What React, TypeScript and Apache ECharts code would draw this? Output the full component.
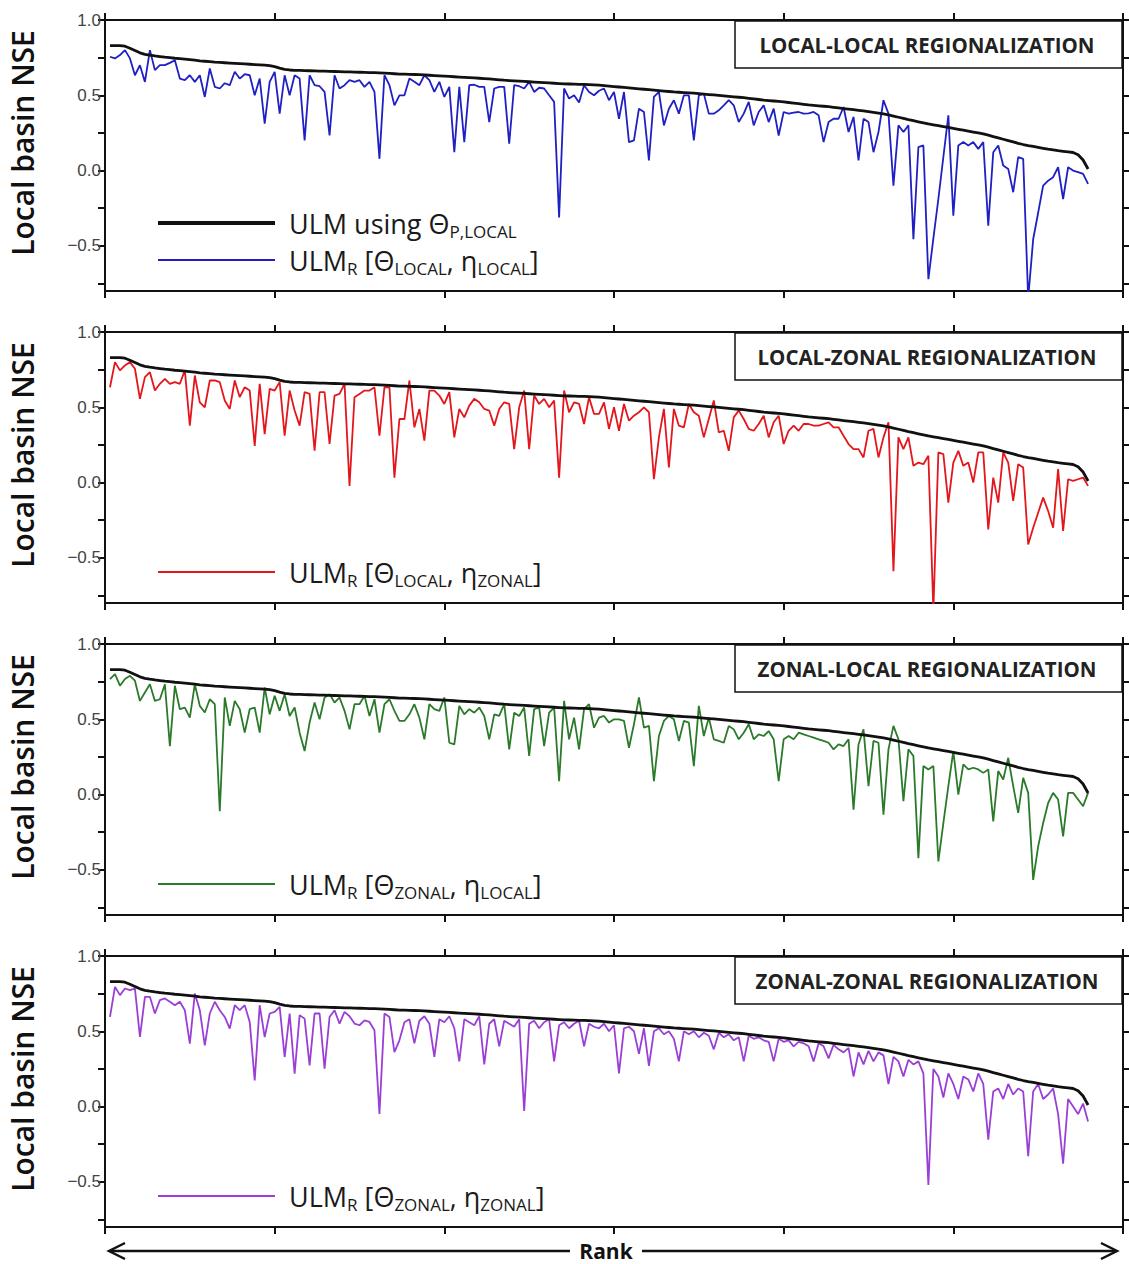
import React, { useEffect, useRef } from "react";
import * as echarts from "echarts";

// ---------- DATA ----------
const N = 197;
const ranks: number[] = Array.from({ length: N }, (_, i) => i + 1);

// ULM using Theta_P,LOCAL (ranked, same in every panel)
const ulmLocal: number[] = [
  0.83, 0.83, 0.83, 0.826, 0.812, 0.797, 0.782, 0.772, 0.766, 0.761,
  0.757, 0.753, 0.75, 0.746, 0.743, 0.74, 0.737, 0.733, 0.729, 0.726,
  0.723, 0.72, 0.718, 0.716, 0.714, 0.712, 0.71, 0.708, 0.706, 0.704,
  0.702, 0.70, 0.697, 0.69, 0.68, 0.672, 0.668, 0.666, 0.665, 0.664,
  0.663, 0.662, 0.661, 0.66, 0.659, 0.658, 0.657, 0.656, 0.655, 0.654,
  0.653, 0.652, 0.651, 0.65, 0.649, 0.647, 0.645, 0.643, 0.641, 0.64,
  0.639, 0.638, 0.637, 0.635, 0.633, 0.631, 0.629, 0.627, 0.625, 0.623,
  0.621, 0.619, 0.617, 0.615, 0.613, 0.611, 0.609, 0.606, 0.603, 0.60,
  0.598, 0.596, 0.594, 0.592, 0.59, 0.588, 0.586, 0.584, 0.582, 0.58,
  0.578, 0.576, 0.575, 0.574, 0.573, 0.572, 0.571, 0.569, 0.567, 0.564,
  0.561, 0.558, 0.555, 0.552, 0.549, 0.546, 0.543, 0.54, 0.537, 0.534,
  0.531, 0.528, 0.525, 0.522, 0.52, 0.518, 0.516, 0.514, 0.511, 0.508,
  0.505, 0.502, 0.499, 0.496, 0.493, 0.49, 0.487, 0.484, 0.48, 0.476,
  0.472, 0.468, 0.465, 0.462, 0.459, 0.456, 0.452, 0.448, 0.444, 0.44,
  0.436, 0.433, 0.43, 0.427, 0.424, 0.42, 0.416, 0.412, 0.408, 0.404,
  0.40, 0.396, 0.391, 0.386, 0.381, 0.376, 0.37, 0.362, 0.354, 0.346,
  0.338, 0.331, 0.324, 0.317, 0.31, 0.304, 0.298, 0.292, 0.286, 0.28,
  0.274, 0.268, 0.262, 0.256, 0.25, 0.243, 0.235, 0.226, 0.217, 0.208,
  0.199, 0.19, 0.181, 0.173, 0.166, 0.16, 0.154, 0.148, 0.142, 0.137,
  0.132, 0.128, 0.124, 0.12, 0.105, 0.07, 0.01,
];

// ULM_R [Theta_LOCAL, eta_LOCAL]
const localLocal: number[] = [
  0.756, 0.745, 0.767, 0.80, 0.745, 0.633, 0.70, 0.589, 0.80, 0.667,
  0.70, 0.70, 0.715, 0.733, 0.611, 0.60, 0.633, 0.589, 0.633, 0.489,
  0.678, 0.556, 0.545, 0.58, 0.567, 0.656, 0.611, 0.64, 0.633, 0.50,
  0.611, 0.311, 0.589, 0.656, 0.378, 0.633, 0.50, 0.633, 0.611, 0.20,
  0.633, 0.567, 0.56, 0.522, 0.233, 0.633, 0.545, 0.567, 0.60, 0.589,
  0.60, 0.556, 0.589, 0.522, 0.078, 0.633, 0.567, 0.433, 0.50, 0.50,
  0.611, 0.59, 0.567, 0.633, 0.60, 0.522, 0.589, 0.489, 0.556, 0.122,
  0.556, 0.189, 0.567, 0.57, 0.556, 0.556, 0.322, 0.545, 0.556, 0.556,
  0.178, 0.567, 0.56, 0.545, 0.589, 0.522, 0.55, 0.545, 0.50, 0.456,
  -0.311, 0.545, 0.478, 0.50, 0.452, 0.567, 0.522, 0.50, 0.53, 0.545,
  0.467, 0.522, 0.344, 0.522, 0.189, 0.20, 0.411, 0.389, 0.067, 0.489,
  0.522, 0.30, 0.411, 0.467, 0.378, 0.50, 0.50, 0.20, 0.50, 0.511,
  0.378, 0.378, 0.40, 0.433, 0.467, 0.433, 0.322, 0.378, 0.456, 0.30,
  0.389, 0.433, 0.322, 0.411, 0.233, 0.389, 0.378, 0.385, 0.389, 0.378,
  0.38, 0.389, 0.367, 0.189, 0.322, 0.344, 0.344, 0.422, 0.256, 0.356,
  0.067, 0.344, 0.322, 0.122, 0.256, 0.467, 0.378, -0.10, 0.30, 0.256,
  0.30, -0.456, 0.156, 0.167, -0.722, -0.45, -0.189, 0.09, 0.367, -0.30,
  0.167, 0.189, 0.167, 0.189, 0.144, 0.189, -0.367, 0.122, 0.167, 0.033,
  0.011, -0.144, 0.089, 0.078, -0.85, -0.456, -0.28, -0.10, -0.067, -0.044,
  0.022, -0.189, 0.022, 0.0, -0.01, -0.022, -0.089,
];

// ULM_R [Theta_LOCAL, eta_ZONAL]
const localZonal: number[] = [
  0.633, 0.80, 0.745, 0.778, 0.80, 0.756, 0.556, 0.70, 0.733, 0.611,
  0.656, 0.689, 0.656, 0.667, 0.656, 0.745, 0.378, 0.711, 0.533, 0.50,
  0.678, 0.678, 0.667, 0.545, 0.489, 0.678, 0.567, 0.633, 0.611, 0.244,
  0.656, 0.322, 0.622, 0.611, 0.667, 0.311, 0.611, 0.478, 0.378, 0.60,
  0.589, 0.211, 0.60, 0.60, 0.256, 0.578, 0.589, 0.656, -0.022, 0.567,
  0.589, 0.611, 0.611, 0.633, 0.311, 0.633, 0.633, 0.033, 0.422, 0.422,
  0.678, 0.367, 0.489, 0.278, 0.611, 0.611, 0.578, 0.522, 0.60, 0.30,
  0.489, 0.433, 0.511, 0.556, 0.533, 0.489, 0.478, 0.378, 0.489, 0.533,
  0.522, 0.222, 0.50, 0.611, 0.222, 0.578, 0.522, 0.556, 0.50, 0.544,
  0.033, 0.611, 0.467, 0.533, 0.522, 0.389, 0.567, 0.456, 0.456, 0.533,
  0.356, 0.50, 0.344, 0.522, 0.411, 0.444, 0.467, 0.50, 0.467, 0.022,
  0.30, 0.489, 0.10, 0.489, 0.378, 0.367, 0.522, 0.467, 0.444, 0.30,
  0.422, 0.545, 0.333, 0.344, 0.211, 0.433, 0.478, 0.422, 0.356, 0.344,
  0.389, 0.444, 0.30, 0.40, 0.444, 0.256, 0.344, 0.378, 0.344, 0.389,
  0.389, 0.378, 0.378, 0.389, 0.40, 0.367, 0.367, 0.311, 0.256, 0.222,
  0.222, 0.167, 0.344, 0.356, 0.167, 0.30, 0.40, -0.589, 0.30, 0.222,
  0.30, 0.111, 0.133, 0.122, 0.178, -0.85, 0.20, 0.189, -0.133, 0.133,
  0.211, 0.111, 0.133, 0.0, 0.20, 0.20, -0.311, 0.033, -0.133, 0.20,
  0.133, -0.122, 0.122, 0.10, -0.411, -0.30, -0.20, -0.10, -0.189, -0.30,
  0.089, -0.322, 0.022, 0.011, 0.022, 0.033, -0.022,
];

// ULM_R [Theta_ZONAL, eta_LOCAL]
const zonalLocal: number[] = [
  0.767, 0.80, 0.723, 0.767, 0.789, 0.756, 0.622, 0.678, 0.733, 0.622,
  0.633, 0.733, 0.322, 0.723, 0.567, 0.578, 0.511, 0.733, 0.589, 0.545,
  0.633, 0.60, -0.111, 0.645, 0.456, 0.622, 0.567, 0.411, 0.567, 0.578,
  0.411, 0.711, 0.533, 0.656, 0.556, 0.667, 0.522, 0.578, 0.411, 0.289,
  0.478, 0.611, 0.50, 0.645, 0.667, 0.611, 0.645, 0.556, 0.433, 0.60,
  0.60, 0.656, 0.522, 0.633, 0.411, 0.60, 0.633, 0.556, 0.489, 0.489,
  0.533, 0.60, 0.511, 0.367, 0.60, 0.567, 0.556, 0.645, 0.344, 0.333,
  0.589, 0.533, 0.567, 0.544, 0.578, 0.522, 0.367, 0.533, 0.522, 0.60,
  0.30, 0.544, 0.522, 0.578, 0.256, 0.567, 0.578, 0.322, 0.544, 0.578,
  0.089, 0.622, 0.367, 0.511, 0.30, 0.567, 0.60, 0.444, 0.511, 0.522,
  0.478, 0.50, 0.50, 0.489, 0.311, 0.467, 0.645, 0.444, 0.456, 0.089,
  0.389, 0.489, 0.522, 0.50, 0.356, 0.489, 0.478, 0.189, 0.589, 0.389,
  0.511, 0.367, 0.356, 0.344, 0.456, 0.433, 0.367, 0.411, 0.467, 0.367,
  0.40, 0.389, 0.422, 0.367, 0.089, 0.367, 0.389, 0.367, 0.411, 0.40,
  0.389, 0.378, 0.367, 0.356, 0.344, 0.30, 0.333, 0.322, 0.367, -0.10,
  0.333, 0.433, 0.056, 0.356, 0.344, -0.133, 0.30, 0.456, 0.367, -0.044,
  0.30, 0.256, -0.422, 0.189, 0.167, 0.189, -0.444, -0.189, 0.056, 0.289,
  0.0, 0.20, 0.167, 0.178, 0.167, 0.144, 0.167, -0.178, 0.156, 0.10,
  0.244, 0.056, -0.122, 0.111, 0.011, -0.567, -0.344, -0.189, -0.056, 0.011,
  -0.033, -0.278, 0.011, 0.011, -0.033, -0.078, 0.011,
];

// ULM_R [Theta_ZONAL, eta_ZONAL]
const zonalZonal: number[] = [
  0.595, 0.795, 0.74, 0.784, 0.773, 0.784, 0.462, 0.729, 0.729, 0.618,
  0.707, 0.718, 0.696, 0.673, 0.696, 0.64, 0.418, 0.751, 0.64, 0.407,
  0.618, 0.696, 0.64, 0.595, 0.518, 0.673, 0.64, 0.673, 0.562, 0.173,
  0.673, 0.462, 0.618, 0.629, 0.662, 0.329, 0.618, 0.218, 0.607, 0.584,
  0.273, 0.618, 0.618, 0.251, 0.595, 0.64, 0.551, 0.629, 0.60, 0.551,
  0.54, 0.573, 0.562, 0.507, -0.049, 0.618, 0.595, 0.362, 0.44, 0.56,
  0.58, 0.42, 0.57, 0.60, 0.55, 0.33, 0.58, 0.56, 0.60, 0.52,
  0.30, 0.58, 0.56, 0.54, 0.60, 0.28, 0.55, 0.58, 0.40, 0.57,
  0.55, 0.53, 0.58, -0.03, 0.55, 0.57, 0.52, 0.56, 0.58, 0.30,
  0.54, 0.56, 0.52, 0.55, 0.57, 0.40, 0.55, 0.53, 0.52, 0.55,
  0.50, 0.54, 0.22, 0.52, 0.53, 0.50, 0.35, 0.52, 0.27, 0.50,
  0.52, 0.48, 0.50, 0.45, 0.30, 0.50, 0.48, 0.50, 0.46, 0.49,
  0.47, 0.38, 0.49, 0.46, 0.48, 0.44, 0.46, 0.30, 0.47, 0.45,
  0.46, 0.44, 0.43, 0.30, 0.45, 0.43, 0.44, 0.40, 0.43, 0.42,
  0.40, 0.30, 0.42, 0.40, 0.32, 0.41, 0.38, 0.36, 0.39, 0.20,
  0.36, 0.28, 0.37, 0.30, 0.36, 0.34, 0.15, 0.33, 0.30, 0.20,
  0.31, 0.28, 0.30, 0.22, -0.52, 0.25, 0.20, 0.06, 0.22, 0.15,
  0.05, 0.20, 0.18, 0.10, 0.22, 0.15, -0.22, 0.10, 0.12, 0.05,
  0.15, 0.08, 0.12, 0.10, -0.33, 0.10, 0.15, 0.05, 0.08, 0.12,
  -0.05, -0.38, 0.05, 0.0, -0.05, 0.02, -0.10,
];

const panelSeries: number[][] = [localLocal, localZonal, zonalLocal, zonalZonal];
const panelColors: string[] = ["#1f1fc4", "#e3161c", "#2a7a2a", "#9a3fd6"];
const panelTitles: string[] = [
  "LOCAL-LOCAL REGIONALIZATION",
  "LOCAL-ZONAL REGIONALIZATION",
  "ZONAL-LOCAL REGIONALIZATION",
  "ZONAL-ZONAL REGIONALIZATION",
];
const thetaSubs: string[] = ["LOCAL", "LOCAL", "ZONAL", "ZONAL"];
const etaSubs: string[] = ["LOCAL", "ZONAL", "LOCAL", "ZONAL"];
const yTickValues: number[] = [-0.75, -0.5, -0.25, 0, 0.25, 0.5, 0.75, 1.0];
const yLabelValues: number[] = [-0.5, 0, 0.5, 1.0];
const xTickStep = 34;
const xMax = 204;

// ---------- LAYOUT ----------
const panelTops = [20, 332, 644, 956];
const GRID_LEFT = 105;
const GRID_W = 1018;
const GRID_H = 271;

function fmtY(v: number): string {
  if (Math.abs(v) < 1e-9) return "0.0";
  return v < 0 ? "\u2212" + Math.abs(v).toFixed(1) : v.toFixed(1);
}

const richStyles = {
  m: { fontSize: 27, fontFamily: "Open Sans", fill: "#1a1a1a", lineHeight: 34 },
  s: { fontSize: 17, fontFamily: "Open Sans", fill: "#1a1a1a", lineHeight: 16, verticalAlign: "bottom" },
};

function buildOption(): any {
  const grid: any[] = [];
  const xAxis: any[] = [];
  const yAxis: any[] = [];
  const series: any[] = [];
  const graphic: any[] = [];
  const axisLineStyle = { color: "#111", width: 2 };

  panelTops.forEach((t, g) => {
    grid.push({ left: GRID_LEFT, top: t, width: GRID_W, height: GRID_H, containLabel: false, outerBoundsMode: "none" });
    ["bottom", "top"].forEach((pos) => {
      xAxis.push({
        gridIndex: g,
        type: "value",
        position: pos,
        min: 0,
        max: xMax,
        interval: xTickStep,
        axisLine: { show: true, onZero: false, lineStyle: axisLineStyle },
        axisTick: { show: true, length: 7, lineStyle: axisLineStyle },
        axisLabel: { show: false },
        splitLine: { show: false },
      });
    });
    ["left", "right"].forEach((pos) => {
      yAxis.push({
        gridIndex: g,
        type: "value",
        position: pos,
        min: -0.8,
        max: 1.0,
        axisLine: { show: true, onZero: false, lineStyle: axisLineStyle },
        axisTick: { show: true, length: 7, customValues: yTickValues, lineStyle: axisLineStyle },
        axisLabel: {
          show: pos === "left",
          customValues: yLabelValues,
          formatter: (v: number) => fmtY(v),
          fontSize: 17,
          fontFamily: "Liberation Sans",
          color: "#444",
          margin: 4,
        },
        splitLine: { show: false },
      });
    });

    series.push({
      type: "line",
      name: "ULM_R",
      xAxisIndex: g * 2,
      yAxisIndex: g * 2,
      data: ranks.map((r, i) => [r, panelSeries[g][i]]),
      symbol: "none",
      lineStyle: { color: panelColors[g], width: 1.8 },
      z: 2,
      silent: true,
    });
    series.push({
      type: "line",
      name: "ULM",
      xAxisIndex: g * 2,
      yAxisIndex: g * 2,
      data: ranks.map((r, i) => [r, ulmLocal[i]]),
      symbol: "none",
      lineStyle: { color: "#111", width: 2.8 },
      z: 3,
      silent: true,
    });

    // y-axis name
    graphic.push({
      type: "text",
      x: 22,
      y: t + 123,
      rotation: Math.PI / 2,
      style: {
        text: "Local basin NSE",
        fontSize: 30,
        fontWeight: 600,
        fontFamily: "Open Sans",
        fill: "#111",
        textAlign: "center",
        textVerticalAlign: "middle",
      },
    });

    // title box
    graphic.push({
      type: "rect",
      shape: { x: 735, y: t + 1, width: 387, height: 47 },
      style: { fill: "#fff", stroke: "#111", lineWidth: 1.5 },
      z: 10,
    });
    graphic.push({
      type: "text",
      x: 927,
      y: t + 25,
      style: {
        text: panelTitles[g],
        fontSize: 20.5,
        fontWeight: 700,
        fontFamily: "Open Sans",
        fill: "#222",
        textAlign: "center",
        textVerticalAlign: "middle",
      },
      z: 11,
    });

    // legend
    if (g === 0) {
      graphic.push({
        type: "line",
        shape: { x1: 158, y1: t + 203, x2: 275, y2: t + 203 },
        style: { stroke: "#111", lineWidth: 4 },
        z: 10,
      });
      graphic.push({
        type: "text",
        x: 289,
        y: t + 203,
        style: {
          text: "{m|ULM using \u0398}{s|P,LOCAL}",
          rich: richStyles,
          textVerticalAlign: "middle",
        },
        z: 10,
      });
    }
    graphic.push({
      type: "line",
      shape: { x1: 158, y1: t + 240, x2: 275, y2: t + 240 },
      style: { stroke: panelColors[g], lineWidth: 2.2 },
      z: 10,
    });
    graphic.push({
      type: "text",
      x: 289,
      y: t + 240,
      style: {
        text: `{m|ULM}{s|R}{m| [\u0398}{s|${thetaSubs[g]}}{m|, \u03b7}{s|${etaSubs[g]}}{m|]}`,
        rich: richStyles,
        textVerticalAlign: "middle",
      },
      z: 10,
    });
  });

  // Rank arrow (two segments leaving room for the label)
  const ay = 1251;
  graphic.push({
    type: "line",
    shape: { x1: 110, y1: ay, x2: 570, y2: ay },
    style: { stroke: "#111", lineWidth: 2.5 },
  });
  graphic.push({
    type: "line",
    shape: { x1: 642, y1: ay, x2: 1116, y2: ay },
    style: { stroke: "#111", lineWidth: 2.5 },
  });
  graphic.push({
    type: "polyline",
    shape: { points: [[125, ay - 8], [109, ay], [125, ay + 8]] },
    style: { stroke: "#111", lineWidth: 2.5, fill: null },
  });
  graphic.push({
    type: "polyline",
    shape: { points: [[1101, ay - 8], [1117, ay], [1101, ay + 8]] },
    style: { stroke: "#111", lineWidth: 2.5, fill: null },
  });
  graphic.push({
    type: "text",
    x: 606,
    y: ay,
    style: {
      text: "Rank",
      fontSize: 21,
      fontWeight: 700,
      fontFamily: "Open Sans",
      fill: "#111",
      textAlign: "center",
      textVerticalAlign: "middle",
    },
    z: 6,
  });

  return {
    animation: false,
    backgroundColor: "#fff",
    grid,
    xAxis,
    yAxis,
    series,
    graphic,
  };
}

export default function App() {
  const ref = useRef<HTMLDivElement>(null);
  useEffect(() => {
    if (!ref.current) return;
    const chart = echarts.init(ref.current, null, { renderer: "svg" });
    chart.setOption(buildOption());
    return () => chart.dispose();
  }, []);
  return (
    <div
      ref={ref}
      style={{ position: "absolute", left: 0, top: 0, width: 1129, height: 1264, background: "#fff" }}
    />
  );
}
